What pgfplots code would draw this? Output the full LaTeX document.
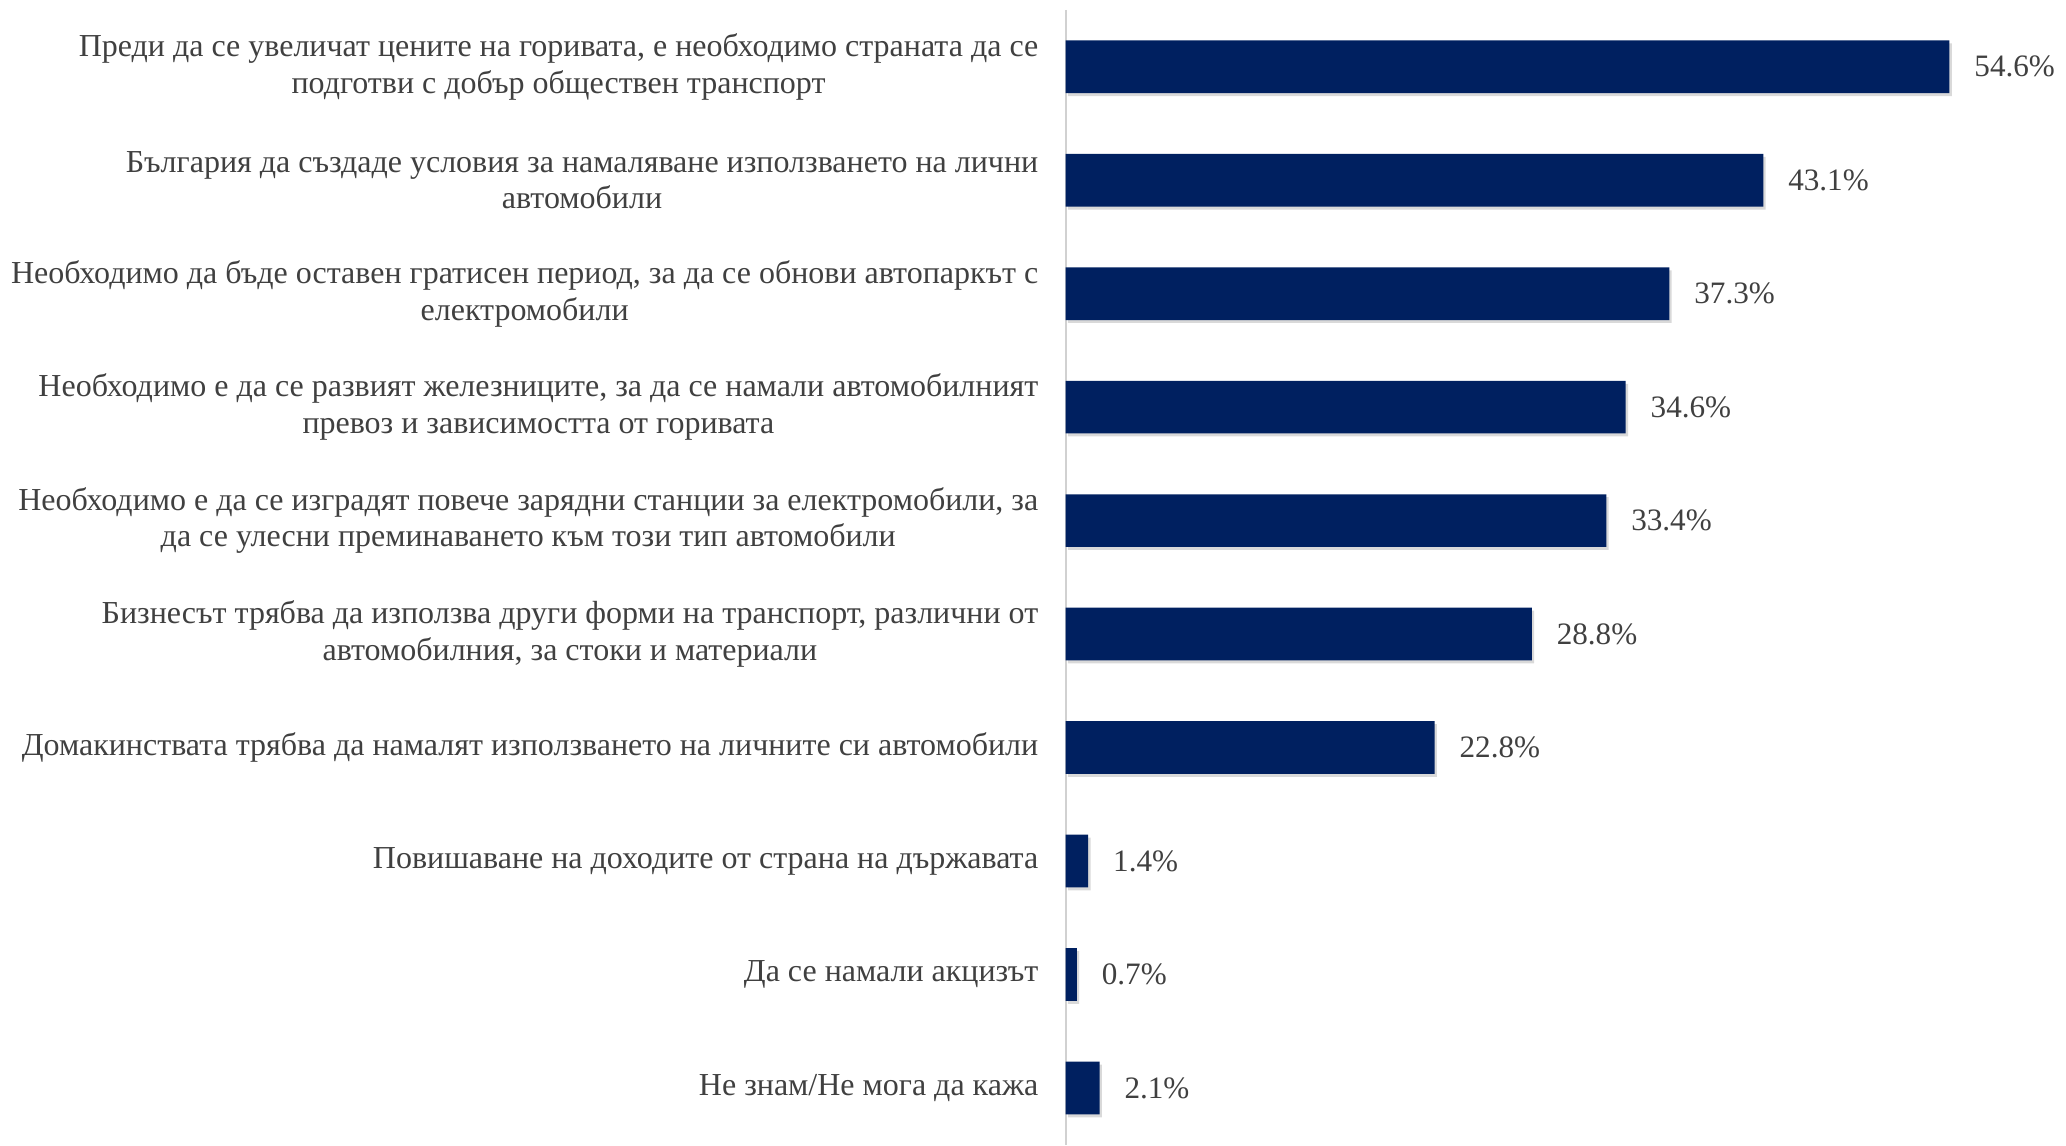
\documentclass[border=0pt]{standalone}
\usepackage{pgfplots}
\pgfplotsset{compat=1.18}
\usepackage{fontspec}
\setmainfont{Liberation Serif}
\usetikzlibrary{shadows}
\definecolor{barblue}{HTML}{002060}
\definecolor{txtgray}{HTML}{404040}

\begin{document}
\begin{tikzpicture}
\begin{axis}[
  xbar,
  scale only axis,
  width=293pt, height=342.3pt,
  xmin=0, xmax=60, ymin=-0.5, ymax=9.5,
  y dir=reverse,
  bar width=15.9pt,
  axis x line=none, axis y line=left,
  y axis line style={-, draw=black!18, line width=0.6pt},
  ytick=data, major tick length=0,
  yticklabels={
    {Преди да се увеличат цените на горивата, е необходимо страната да се\\подготви с добър обществен транспорт},
    {България да създаде условия за намаляване използването на лични\\автомобили},
    {Необходимо да бъде оставен гратисен период, за да се обнови автопаркът с\\електромобили},
    {Необходимо е да се развият железниците, за да се намали автомобилният\\превоз и зависимостта от горивата},
    {Необходимо е да се изградят повече зарядни станции за електромобили, за\\да се улесни преминаването към този тип автомобили},
    {Бизнесът трябва да използва други форми на транспорт, различни от\\автомобилния, за стоки и материали},
    {Домакинствата трябва да намалят използването на личните си автомобили},
    {Повишаване на доходите от страна на държавата},
    {Да се намали акцизът},
    {Не знам/Не мога да кажа}
  },
  yticklabel style={align=center, font=\fontsize{9.65}{11.07}\selectfont, text=txtgray, xshift=-4.7pt},
  point meta=x,
  nodes near coords={\pgfmathprintnumber[fixed,fixed zerofill,precision=1,assume math mode=true]{\pgfplotspointmeta}\%},
  nodes near coords style={anchor=west, xshift=4pt, font=\fontsize{9.4}{11}\selectfont, text=txtgray},
  clip=false,
]
\addplot[fill=barblue, draw=none,
  drop shadow={shadow xshift=0.7pt, shadow yshift=-0.9pt, opacity=0.3}]
  coordinates {(54.6,0) (43.1,1) (37.3,2) (34.6,3) (33.4,4) (28.8,5) (22.8,6) (1.4,7) (0.7,8) (2.1,9)};
\end{axis}
% a little white room above the axis line, as in the reference
\path ([yshift=3pt]current axis.north) -- ([yshift=3pt]current axis.north west);
\end{tikzpicture}
\end{document}
